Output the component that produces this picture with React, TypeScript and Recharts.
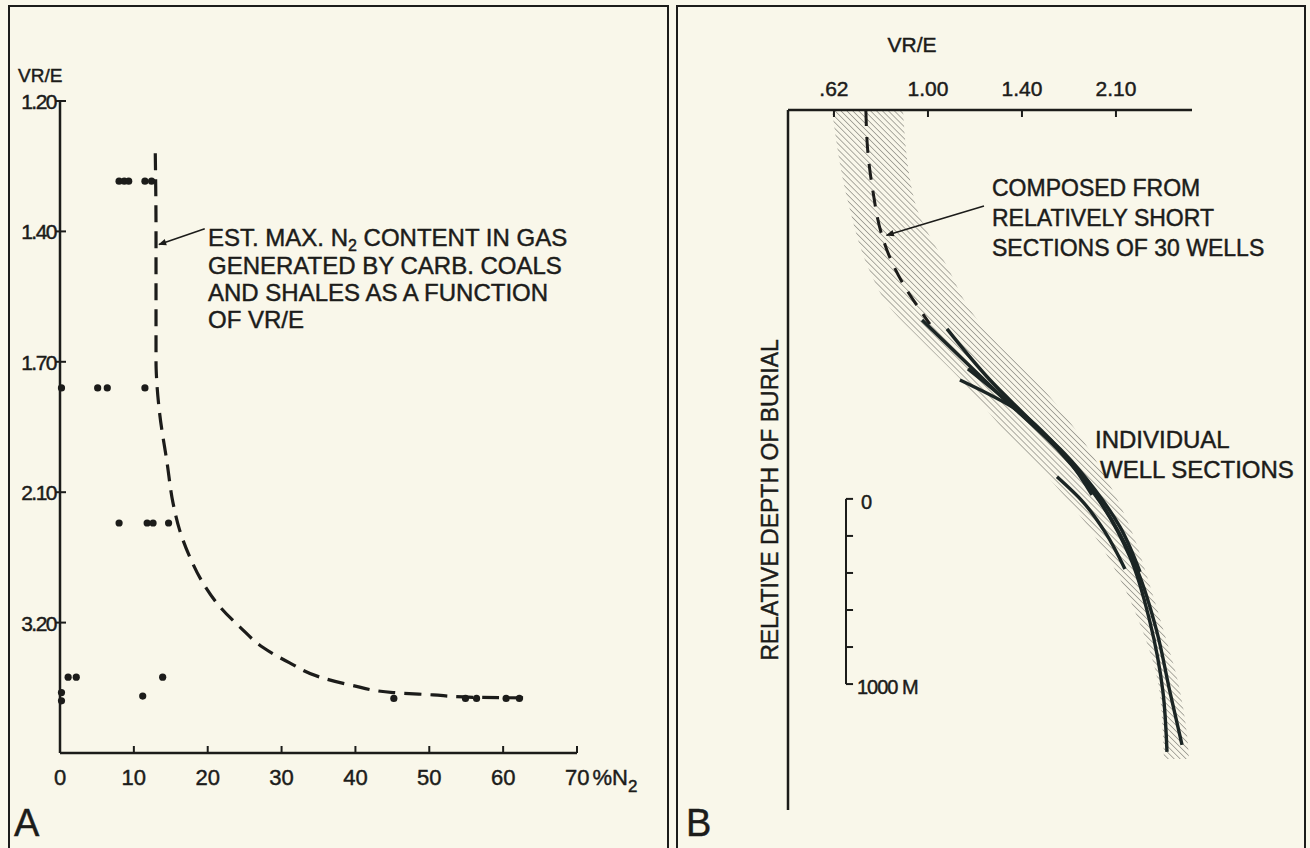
import React from 'react';
import { ComposedChart, Scatter, Line, Area, XAxis, YAxis, ReferenceLine } from 'recharts';

const INK = '#1c1c1a';
const PAPER = '#f9f7ea';
const FONT = '"Liberation Sans", Arial, sans-serif';

// ---------- panel A ----------
// the VR/E steps are drawn equally spaced, values sit between these readings
const vrTicksA = [1.2, 1.4, 1.7, 2.1, 3.2];
const vrLabelsA = ['1.20', '1.40', '1.70', '2.10', '3.20'];
const n2Ticks = [0, 10, 20, 30, 40, 50, 60, 70];

// measured samples: % N2 and VR/E
const sampleN2 = [8.0, 8.7, 9.3, 11.5, 12.4, 0.2, 5.1, 6.4, 11.5, 8.0, 11.8, 12.6, 14.7, 1.1, 2.2, 13.9, 0.2, 0.2, 11.2, 45.2, 54.9, 56.4, 60.4, 62.2];
const sampleVR = [1.323, 1.323, 1.323, 1.323, 1.323, 1.78, 1.78, 1.78, 1.78, 2.36, 2.36, 2.36, 2.36, 3.66, 3.66, 3.66, 3.79, 3.86, 3.82, 3.84, 3.84, 3.84, 3.84, 3.84];

// estimated max N2 content curve
const maxN2 = [12.9, 13.0, 13.0, 13.1, 13.5, 14.5, 15.3, 16.2, 17.6, 19.4, 21.7, 24.4, 27.5, 31.1, 35.2, 39.6, 45.1, 50.5, 55.9, 62.7];
const maxVR = [1.28, 1.4, 1.7, 1.76, 1.86, 2.01, 2.19, 2.42, 2.65, 2.87, 3.07, 3.24, 3.41, 3.54, 3.66, 3.73, 3.79, 3.81, 3.83, 3.835];

// ---------- panel B ----------
const vrTicksB = [0.62, 1.0, 1.4, 2.1];
const vrLabelsB = ['.62', '1.00', '1.40', '2.10'];

// depth in metres below the top of the diagram
const bandDepth = [0, 497, 875, 1053, 1236, 1469, 1722, 2025, 2278, 2532, 2818, 3088, 3374, 3504];
const bandLow = [0.612, 0.677, 0.766, 0.838, 0.968, 1.149, 1.319, 1.646, 1.921, 2.13, 2.301, 2.413, 2.45, 2.457];
const bandHigh = [0.899, 0.947, 1.094, 1.166, 1.277, 1.512, 1.795, 2.055, 2.219, 2.338, 2.457, 2.562, 2.629, 2.644];

const trendDepth = [0, 227, 443, 659, 821, 956, 1064, 1156];
const trendVR = [0.749, 0.757, 0.778, 0.81, 0.854, 0.907, 0.96, 1.008];

// individual well sections [depth, VR/E]
const well1 = [[1134, 0.976], [1539, 1.306], [1846, 1.683], [2116, 1.981], [2413, 2.204], [2764, 2.353], [3142, 2.45], [3466, 2.48]];
const well2 = [[1182, 1.081], [1458, 1.264], [1674, 1.46], [1927, 1.795], [2197, 2.055], [2494, 2.264], [2818, 2.405], [3142, 2.502], [3428, 2.592]];
const well3 = [[1458, 1.136], [1620, 1.379], [1749, 1.571], [1900, 1.757], [2078, 1.921]];
const well4 = [[1398, 1.17], [1539, 1.306], [1684, 1.46], [1857, 1.72], [2051, 1.944], [2251, 2.13], [2494, 2.279]];
const well5 = [[1981, 1.661], [2116, 1.854], [2278, 2.018], [2478, 2.167]];

// position along an axis whose ticks are equally spaced
const toPos = (v: number, ticks: number[]) => {
  let i = 0;
  while (i < ticks.length - 2 && v > ticks[i + 1]) i++;
  return i + (v - ticks[i]) / (ticks[i + 1] - ticks[i]);
};

const samplesA = sampleN2.map((n2, i) => ({ n2, y: toPos(sampleVR[i], vrTicksA) }));
const maxCurveA = maxN2.map((n2, i) => ({ n2, y: toPos(maxVR[i], vrTicksA) }));
const bandB = bandDepth.map((depth, i) => ({
  depth,
  band: [toPos(bandLow[i], vrTicksB), toPos(bandHigh[i], vrTicksB)],
}));
const trendB = trendDepth.map((depth, i) => ({ depth, p: toPos(trendVR[i], vrTicksB) }));
const wellsB = [well1, well2, well3, well4, well5].map((w) =>
  w.map(([depth, vr]) => ({ depth, p: toPos(vr, vrTicksB) }))
);

const scaleBarPos = 0.128;
const scaleBarTicks = [2100, 2300, 2500, 2700, 2900, 3100];

const txt = { fontFamily: FONT, fill: INK, stroke: INK, strokeWidth: 0.45 } as const;

const renderXTickA = (p: any) => {
  const { x, y, payload } = p;
  const v = payload.value;
  return (
    <g>
      {v !== 0 && <line x1={x} x2={x} y1={y} y2={y - 7} stroke={INK} strokeWidth={2} />}
      {v === 70 ? (
        <text x={x - 12} y={y + 32} fontSize={22} {...txt}>
          70<tspan dx={3}>%N</tspan>
          <tspan dy={7} fontSize={17}>2</tspan>
        </text>
      ) : (
        <text x={x} y={y + 32} fontSize={22} textAnchor="middle" {...txt}>
          {v}
        </text>
      )}
    </g>
  );
};

const renderYTickA = (p: any) => {
  const { x, y, payload } = p;
  return (
    <g>
      <line x1={x - 4} x2={x + 6} y1={y} y2={y} stroke={INK} strokeWidth={2} />
      <text x={x - 4} y={y + 8} fontSize={21} letterSpacing={-1.5} textAnchor="end" {...txt}>
        {vrLabelsA[payload.value]}
      </text>
    </g>
  );
};

const renderXTickB = (p: any) => {
  const { x, y, payload } = p;
  return (
    <g>
      <line x1={x} x2={x} y1={y} y2={y + 7} stroke={INK} strokeWidth={2} />
      <text x={x} y={y - 14} fontSize={21} textAnchor="middle" {...txt}>
        {vrLabelsB[payload.value]}
      </text>
    </g>
  );
};

const dotShape = (p: any) => <circle cx={p.cx} cy={p.cy} r={3.6} fill={INK} />;

const arrowDef = (id: string) => (
  <marker id={id} viewBox="0 0 10 10" refX="9" refY="5" markerWidth="13" markerHeight="8" orient="auto" markerUnits="userSpaceOnUse">
    <path d="M0,1 L10,5 L0,9 z" fill={INK} />
  </marker>
);

export default function App() {
  return (
    <div style={{ position: 'fixed', left: 0, top: 0, width: 1310, height: 848, background: PAPER, overflow: 'hidden' }}>
      {/* panel A */}
      <div style={{ position: 'absolute', left: 0, top: 0 }}>
        <ComposedChart width={670} height={848} margin={{ top: 101, right: 93, bottom: 55, left: 10 }}>
          <defs>{arrowDef('arrowA')}</defs>
          <XAxis
            type="number"
            dataKey="n2"
            domain={[0, 70]}
            ticks={n2Ticks}
            interval={0}
            height={40}
            tickSize={0}
            tickMargin={0}
            tickLine={false}
            axisLine={{ stroke: INK, strokeWidth: 2.5 }}
            tick={renderXTickA}
          />
          <YAxis
            type="number"
            dataKey="y"
            domain={[0, 5]}
            reversed
            ticks={[0, 1, 2, 3, 4]}
            interval={0}
            width={50}
            tickSize={0}
            tickMargin={0}
            tickLine={false}
            axisLine={{ stroke: INK, strokeWidth: 2.5 }}
            tick={renderYTickA}
          />
          <Line
            data={maxCurveA}
            dataKey="y"
            type="monotoneY"
            stroke={INK}
            strokeWidth={3.2}
            strokeDasharray="17 9"
            dot={false}
            activeDot={false}
            isAnimationActive={false}
          />
          <Scatter data={samplesA} shape={dotShape} isAnimationActive={false} />
          <ReferenceLine
            segment={[{ x: 19.6, y: 0.98 }, { x: 13.4, y: 1.1 }]}
            stroke={INK}
            strokeWidth={1.6}
            markerEnd="url(#arrowA)"
          />
        </ComposedChart>
      </div>

      {/* panel B */}
      <div style={{ position: 'absolute', left: 676, top: 0 }}>
        <ComposedChart layout="vertical" width={634} height={848} margin={{ top: 70, right: 118, bottom: 38, left: 82 }}>
          <defs>
            <pattern id="hatch" width="4.2" height="4.2" patternUnits="userSpaceOnUse" patternTransform="rotate(-45)">
              <line x1="0" y1="0" x2="0" y2="4.2" stroke="#33332f" strokeWidth="1.3" />
            </pattern>
            {arrowDef('arrowB')}
          </defs>
          <XAxis
            type="number"
            orientation="top"
            domain={[-0.489, 3.809]}
            ticks={[0, 1, 2, 3]}
            interval={0}
            height={40}
            tickSize={0}
            tickMargin={0}
            tickLine={false}
            axisLine={{ stroke: INK, strokeWidth: 2.5 }}
            tick={renderXTickB}
          />
          <YAxis
            type="number"
            dataKey="depth"
            domain={[0, 3780]}
            width={30}
            tick={false}
            tickLine={false}
            axisLine={{ stroke: INK, strokeWidth: 2.5 }}
          />
          <Area data={bandB} dataKey="band" type="monotone" fill="url(#hatch)" stroke="none" isAnimationActive={false} />
          <Line
            data={trendB}
            dataKey="p"
            type="monotone"
            stroke={INK}
            strokeWidth={3}
            strokeDasharray="16 11"
            dot={false}
            activeDot={false}
            isAnimationActive={false}
          />
          {wellsB.map((w, i) => (
            <Line
              key={i}
              data={w}
              dataKey="p"
              type="monotone"
              stroke="#1b2524"
              strokeWidth={3.4}
              dot={false}
              activeDot={false}
              isAnimationActive={false}
            />
          ))}
          <ReferenceLine
            segment={[{ x: 1.596, y: 518 }, { x: 0.56, y: 676 }]}
            stroke={INK}
            strokeWidth={1.6}
            markerEnd="url(#arrowB)"
          />
          <ReferenceLine
            segment={[{ x: scaleBarPos, y: scaleBarTicks[0] }, { x: scaleBarPos, y: scaleBarTicks[scaleBarTicks.length - 1] }]}
            stroke={INK}
            strokeWidth={2}
          />
          {scaleBarTicks.map((d) => (
            <ReferenceLine
              key={d}
              segment={[{ x: scaleBarPos, y: d }, { x: scaleBarPos + 0.075, y: d }]}
              stroke={INK}
              strokeWidth={2}
            />
          ))}
        </ComposedChart>
      </div>

      {/* frames and lettering */}
      <svg width={1310} height={848} style={{ position: 'absolute', left: 0, top: 0, pointerEvents: 'none' }}>
        <rect x={9} y={6} width={659} height={870} fill="none" stroke={INK} strokeWidth={2} />
        <rect x={677} y={6} width={628} height={870} fill="none" stroke={INK} strokeWidth={2} />

        <text x={18} y={82} fontSize={19} {...txt}>VR/E</text>
        <text x={208} y={246} fontSize={24} {...txt}>
          EST. MAX. N<tspan dy={5} fontSize={16}>2</tspan>
          <tspan dy={-5}> CONTENT IN GAS</tspan>
        </text>
        <text x={208} y={274} fontSize={24} {...txt}>GENERATED BY CARB. COALS</text>
        <text x={208} y={301} fontSize={24} {...txt}>AND SHALES AS A FUNCTION</text>
        <text x={208} y={328} fontSize={24} {...txt}>OF VR/E</text>
        <text x={14} y={836} fontSize={38} {...txt}>A</text>

        <text x={912} y={52} fontSize={21} textAnchor="middle" {...txt}>VR/E</text>
        <text x={992} y={196} fontSize={23} {...txt}>COMPOSED FROM</text>
        <text x={992} y={226} fontSize={23} {...txt}>RELATIVELY SHORT</text>
        <text x={992} y={256} fontSize={23} {...txt}>SECTIONS OF 30 WELLS</text>
        <text x={1095} y={448} fontSize={24} {...txt}>INDIVIDUAL</text>
        <text x={1100} y={478} fontSize={24} {...txt}>WELL SECTIONS</text>
        <text x={770} y={508} fontSize={23} textAnchor="middle" transform="rotate(-90 770 500)" {...txt}>
          RELATIVE DEPTH OF BURIAL
        </text>
        <text x={861} y={509} fontSize={20} {...txt}>0</text>
        <text x={857} y={694} fontSize={20} letterSpacing={-1} {...txt}>1000 M</text>
        <text x={686} y={836} fontSize={38} {...txt}>B</text>
      </svg>
    </div>
  );
}
